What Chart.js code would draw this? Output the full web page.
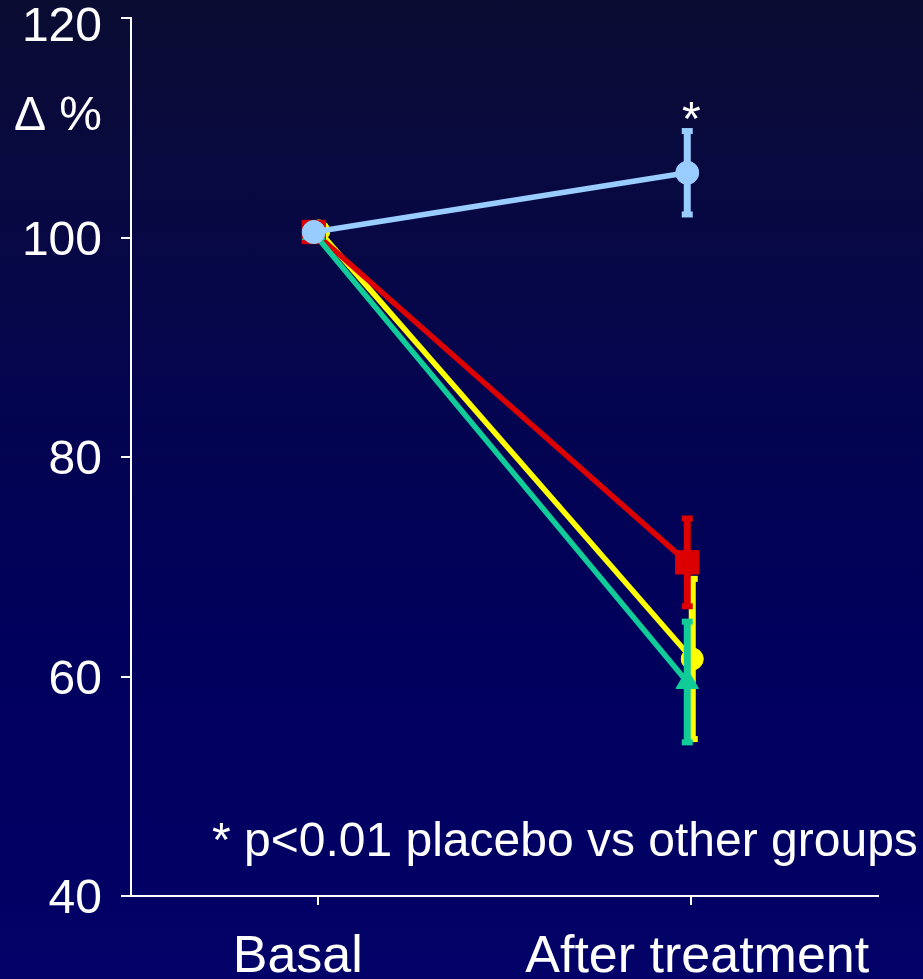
<!DOCTYPE html>
<html lang="en">
<head>
<meta charset="UTF-8">
<title>Δ % Basal vs After treatment</title>
<script src="https://cdn.jsdelivr.net/npm/chart.js"></script>
<style>
  html, body { margin: 0; padding: 0; }
  body {
    width: 923px;
    height: 979px;
    overflow: hidden;
    background: linear-gradient(to bottom, #0b0c32 0%, #05064c 35%, #00005c 65%, #020268 100%);
    font-family: 'Liberation Sans', Arial, sans-serif;
  }
  .wrap { position: relative; width: 923px; height: 979px; }
</style>
</head>
<body>
<div class="wrap"><canvas id="cvs"></canvas></div>

<script>
// data
const categories = ['Basal', 'After treatment'];
const yTicks = [40, 60, 80, 100, 120];

const placebo = [100.5, 105.9];
const placeboErr = [null, 3.8];
const groupRed = [100.5, 70.4];
const groupRedErr = [null, 4.0];
const groupYellow = [100.6, 61.6];
const groupYellowErr = [null, 7.3];
const groupGreen = [100.4, 59.5];
const groupGreenErr = [null, 5.5];

const yTitle = 'Δ %';
const sigMark = '*';
const footNote = '* p<0.01 placebo vs other groups';

const FONT = "'Liberation Sans', Arial, sans-serif";

// small horizontal nudge per series, as in the original slide
const nudge = {
  id: 'nudge',
  afterDatasetsUpdate(chart) {
    chart.data.datasets.forEach((ds, i) => {
      const meta = chart.getDatasetMeta(i);
      meta.data.forEach(pt => { pt.x += ds.xShift || 0; });
    });
  }
};

// error bars drawn right after each dataset so later datasets overlap them
const errorBars = {
  id: 'errorBars',
  afterDatasetDraw(chart, args) {
    const ds = chart.data.datasets[args.index];
    if (!ds.errors) return;
    const y = chart.scales.y;
    const ctx = chart.ctx;
    ctx.save();
    ctx.fillStyle = ds.borderColor;
    args.meta.data.forEach((pt, i) => {
      const e = ds.errors[i];
      if (e == null) return;
      const top = y.getPixelForValue(ds.data[i] + e);
      const bot = y.getPixelForValue(ds.data[i] - e);
      ctx.fillRect(pt.x - 3.5, top, 7, bot - top);
      ctx.fillRect(pt.x - 5.5, top - 3, 11, 6);
      ctx.fillRect(pt.x - 5.5, bot - 3, 11, 6);
    });
    ctx.restore();
  }
};

// tick labels, axis title, category labels, significance marks
const texts = {
  id: 'texts',
  afterDraw(chart) {
    const { ctx, chartArea, scales } = chart;
    const x = scales.x, y = scales.y;
    ctx.save();
    ctx.fillStyle = '#ffffff';

    ctx.font = '48px ' + FONT;
    ctx.textAlign = 'right';
    ctx.textBaseline = 'middle';
    yTicks.forEach(v => {
      const py = Math.max(y.getPixelForValue(v) + 4, chartArea.top + 10);
      ctx.fillText(String(v), 102, py);
    });

    ctx.textBaseline = 'alphabetic';
    ctx.fillText(yTitle, 102, chartArea.top + 112);

    ctx.textAlign = 'center';
    ctx.fillText(sigMark, x.getPixelForValue(1), y.getPixelForValue(placebo[1] + placeboErr[1]) + 4);

    ctx.textAlign = 'left';
    ctx.fillText(footNote, chartArea.left + 81, chartArea.bottom - 40);

    ctx.font = '52px ' + FONT;
    ctx.textAlign = 'center';
    const shift = [-20, 6];
    categories.forEach((c, i) => {
      ctx.fillText(c, x.getPixelForValue(i) + shift[i], chartArea.bottom + 76);
    });
    ctx.restore();
  }
};

const line = (data, errors, color, style, radius, xShift) => ({
  data,
  errors,
  xShift,
  borderColor: color,
  backgroundColor: color,
  borderWidth: 5.5,
  pointStyle: style,
  pointRadius: radius,
  pointBorderWidth: 1,
  pointBorderColor: color,
  pointBackgroundColor: color,
  tension: 0
});

new Chart(document.getElementById('cvs'), {
  type: 'line',
  data: {
    labels: categories,
    datasets: [
      line(placebo, placeboErr, '#99ccff', 'circle', 11.5, -4),
      line(groupGreen, groupGreenErr, '#11cc99', 'triangle', 13, -4),
      line(groupRed, groupRedErr, '#dd0000', 'rect', 16.5, -4),
      line(groupYellow, groupYellowErr, '#ffff00', 'circle', 11, 1)
    ]
  },
  options: {
    responsive: true,
    maintainAspectRatio: false,
    animation: false,
    layout: { padding: { left: 0, top: 18, right: 45, bottom: 0 } },
    plugins: { legend: { display: false }, tooltip: { enabled: false } },
    scales: {
      x: {
        type: 'category',
        offset: true,
        grid: { offset: false, drawOnChartArea: false, drawTicks: true, tickLength: 9, color: '#ffffff', lineWidth: 2 },
        border: { display: true, color: '#ffffff', width: 2 },
        ticks: { display: false },
        afterFit(s) { s.height = 83; s.paddingLeft = 0; s.paddingRight = 0; }
      },
      y: {
        min: yTicks[0],
        max: yTicks[yTicks.length - 1],
        afterBuildTicks(s) { s.ticks = yTicks.map(v => ({ value: v })); },
        grid: { drawOnChartArea: false, drawTicks: true, tickLength: 10, color: '#ffffff', lineWidth: 2 },
        border: { display: true, color: '#ffffff', width: 2 },
        ticks: { display: false },
        afterFit(s) { s.width = 131; s.paddingTop = 0; s.paddingBottom = 0; }
      }
    }
  },
  plugins: [nudge, errorBars, texts]
});
</script>
</body>
</html>
